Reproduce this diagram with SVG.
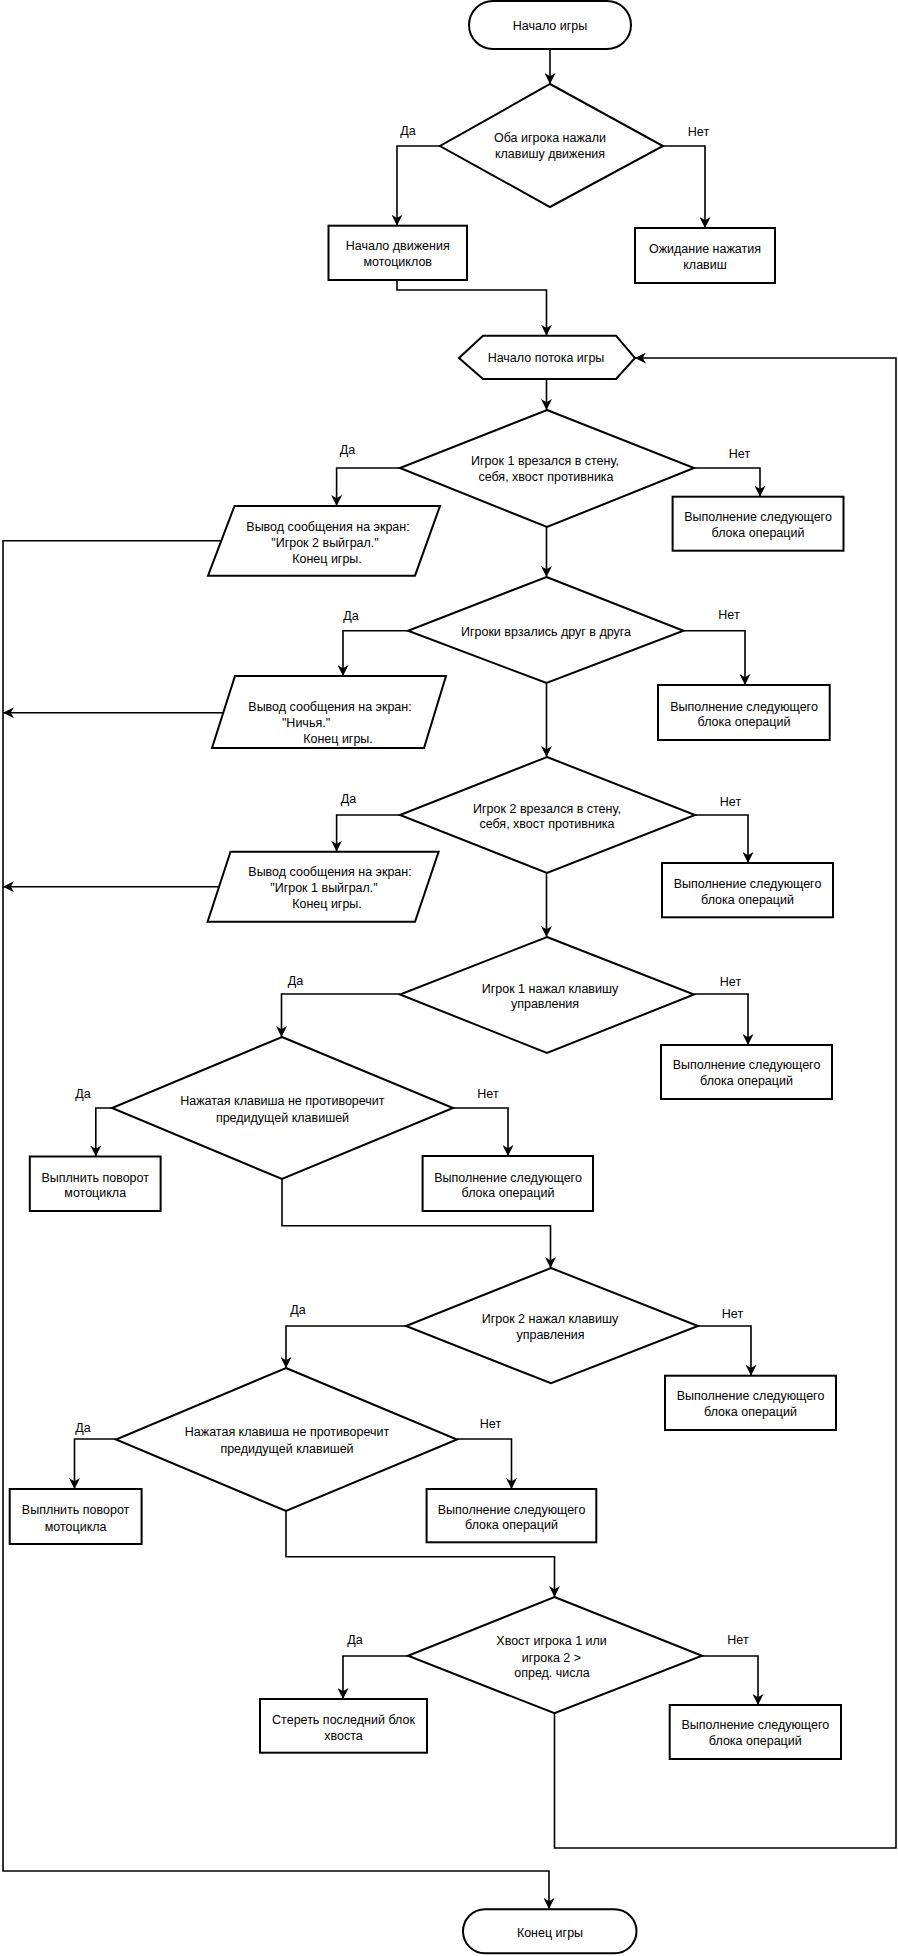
<svg xmlns="http://www.w3.org/2000/svg" width="898" height="1956" viewBox="0 0 898 1956">
<defs>
<marker id="arr" viewBox="0 0 10 10" refX="10" refY="5" markerWidth="11" markerHeight="11" markerUnits="userSpaceOnUse" orient="auto">
<path d="M0,0 L10,5 L0,10 L3,5 Z" fill="#000"/>
</marker>
<style>
.s{fill:#fff;stroke:#000;stroke-width:2}
.c{fill:none;stroke:#000;stroke-width:1.6}
.a{marker-end:url(#arr)}
text{font-family:"Liberation Sans",Arial,sans-serif;font-size:12.5px;fill:#000;text-anchor:middle;dominant-baseline:central}
</style>
</defs>
<rect width="898" height="1956" fill="#fff"/>
<g id="connectors">
<path class="c a" d="M550,49 V84"/>
<path class="c a" d="M440,146 H397 V225.7"/>
<path class="c a" d="M663,146 H705 V228"/>
<path class="c a" d="M397,280 V290 H546.5 V335.7"/>
<path class="c a" d="M546.5,379 V410"/>
<path class="c a" d="M400,468 H336.6 V506"/>
<path class="c a" d="M220.8,540.7 H3 V1871 H549 V1909"/>
<path class="c a" d="M694,468 H760 V496.7"/>
<path class="c a" d="M546.5,527 V577"/>
<path class="c a" d="M408,630.7 H343 V676"/>
<path class="c a" d="M223.6,712.7 H3"/>
<path class="c a" d="M683.5,630.7 H745 V685"/>
<path class="c a" d="M546.5,683 V757"/>
<path class="c a" d="M400,815 H336.6 V851.7"/>
<path class="c a" d="M219.6,886.7 H3"/>
<path class="c a" d="M695,815 H748 V863"/>
<path class="c a" d="M546.5,873 V937"/>
<path class="c a" d="M400,994 H281.5 V1037"/>
<path class="c a" d="M694,994 H748 V1045"/>
<path class="c a" d="M112,1108 H95.8 V1156.5"/>
<path class="c a" d="M453,1108 H508 V1156"/>
<path class="c a" d="M282,1179 V1225.7 H550.5 V1268"/>
<path class="c a" d="M406,1326 H286 V1368"/>
<path class="c a" d="M698,1326 H751 V1375.7"/>
<path class="c a" d="M116,1439 H74.5 V1489"/>
<path class="c a" d="M457,1439 H511.5 V1489"/>
<path class="c a" d="M286,1511 V1556.7 H554.5 V1597"/>
<path class="c a" d="M408,1656 H343 V1699"/>
<path class="c a" d="M702,1656 H758 V1705"/>
<path class="c a" d="M554.5,1713 V1848 H896 V358 H635"/>
</g>
<g id="labels">
<text x="408" y="131">Да</text><text x="698.5" y="132">Нет</text>
<text x="347.5" y="450">Да</text><text x="739.5" y="454">Нет</text>
<text x="351" y="616">Да</text><text x="729" y="615">Нет</text>
<text x="348.5" y="799">Да</text><text x="730.5" y="801.7">Нет</text>
<text x="295.5" y="980.7">Да</text><text x="730.5" y="981.7">Нет</text>
<text x="83" y="1094">Да</text><text x="488" y="1094">Нет</text>
<text x="298" y="1310">Да</text><text x="732.5" y="1314">Нет</text>
<text x="83" y="1427.7">Да</text><text x="490.5" y="1424">Нет</text>
<text x="355" y="1640">Да</text><text x="738" y="1640">Нет</text>
</g>
<g id="start">
<rect class="s" x="469" y="1" width="162" height="48" rx="24"/>
<text x="550" y="26">Начало игры</text>
</g>
<g id="d1">
<polygon class="s" points="550,84 663,146 550,207 440,146"/>
<text x="550" y="138">Оба игрока нажали</text>
<text x="550" y="154">клавишу движения</text>
</g>
<g id="b1">
<rect class="s" x="328.5" y="225.7" width="138.5" height="54.3"/>
<text x="397.7" y="246">Начало движения</text>
<text x="397.7" y="262">мотоциклов</text>
</g>
<g id="b2">
<rect class="s" x="635" y="228" width="140" height="55"/>
<text x="705" y="249">Ожидание нажатия</text>
<text x="705" y="265">клавиш</text>
</g>
<g id="hex">
<polygon class="s" points="459,358 483,335.7 616,335.7 635,358 616,379 483,379"/>
<text x="546" y="358">Начало потока игры</text>
</g>
<g id="d2">
<polygon class="s" points="547,410 694,468 547,527 400,468"/>
<text x="545" y="461">Игрок 1 врезался в стену,</text>
<text x="546" y="477">себя, хвост противника</text>
</g>
<g id="p1">
<polygon class="s" points="234.5,506 440,506 415,575.7 208,575.7"/>
<text x="328" y="526.7">Вывод сообщения на экран:</text>
<text x="325" y="543.3">"Игрок 2 выйграл."</text>
<text x="327" y="559.3">Конец игры.</text>
</g>
<g id="b3">
<rect class="s" x="672.6" y="496.7" width="170.9" height="54"/>
<text x="758" y="516.7">Выполнение следующего</text>
<text x="758" y="532.7">блока операций</text>
</g>
<g id="d3">
<polygon class="s" points="546.5,577 683.5,630.7 546.5,683 408,630.7"/>
<text x="546" y="631.7">Игроки врзались друг в друга</text>
</g>
<g id="p2">
<polygon class="s" points="235,676 446,676 424,748 212,748"/>
<text x="330" y="706.7">Вывод сообщения на экран:</text>
<text x="306" y="722.7">"Ничья."</text>
<text x="338" y="739">Конец игры.</text>
</g>
<g id="b4">
<rect class="s" x="658" y="685" width="171.7" height="55"/>
<text x="744" y="706.7">Выполнение следующего</text>
<text x="744" y="722.3">блока операций</text>
</g>
<g id="d4">
<polygon class="s" points="547,757 695,815 547,873 400,815"/>
<text x="547" y="809">Игрок 2 врезался в стену,</text>
<text x="547" y="824.3">себя, хвост противника</text>
</g>
<g id="p3">
<polygon class="s" points="230.5,851.7 438.6,851.7 415,921.7 207.6,921.7"/>
<text x="330" y="871.7">Вывод сообщения на экран:</text>
<text x="324" y="888.3">"Игрок 1 выйграл."</text>
<text x="327" y="904">Конец игры.</text>
</g>
<g id="b5">
<rect class="s" x="662" y="863" width="171" height="54.3"/>
<text x="747.5" y="884.3">Выполнение следующего</text>
<text x="747.5" y="900">блока операций</text>
</g>
<g id="d5">
<polygon class="s" points="547,937 694,994.5 547,1053 400,994.5"/>
<text x="550" y="989.3">Игрок 1 нажал клавишу</text>
<text x="545" y="1004.3">управления</text>
</g>
<g id="b6">
<rect class="s" x="661" y="1045" width="171" height="54"/>
<text x="746.5" y="1065">Выполнение следующего</text>
<text x="746.5" y="1081">блока операций</text>
</g>
<g id="d6">
<polygon class="s" points="282,1037 453,1108 282,1179 112,1108"/>
<text x="282.4" y="1101">Нажатая клавиша не противоречит</text>
<text x="282.5" y="1117.7">предидущей клавишей</text>
</g>
<g id="b7">
<rect class="s" x="29.8" y="1156.5" width="130.8" height="54.5"/>
<text x="95.2" y="1177.7">Выплнить поворот</text>
<text x="95.2" y="1193.3">мотоцикла</text>
</g>
<g id="b8">
<rect class="s" x="422.6" y="1156" width="170.4" height="55"/>
<text x="508" y="1177.7">Выполнение следующего</text>
<text x="508" y="1193.3">блока операций</text>
</g>
<g id="d7">
<polygon class="s" points="551,1268 698,1326 551,1383.3 406,1326"/>
<text x="550" y="1319.3">Игрок 2 нажал клавишу</text>
<text x="550.5" y="1335">управления</text>
</g>
<g id="b9">
<rect class="s" x="665" y="1375.7" width="171" height="54.3"/>
<text x="750.5" y="1396">Выполнение следующего</text>
<text x="750.5" y="1411.7">блока операций</text>
</g>
<g id="d8">
<polygon class="s" points="286,1368 457,1439.5 286,1511 116,1439.5"/>
<text x="287" y="1432.3">Нажатая клавиша не противоречит</text>
<text x="287" y="1449">предидущей клавишей</text>
</g>
<g id="b10">
<rect class="s" x="9.7" y="1489" width="131.9" height="55"/>
<text x="75.6" y="1510">Выплнить поворот</text>
<text x="75.6" y="1526.7">мотоцикла</text>
</g>
<g id="b11">
<rect class="s" x="426.6" y="1489" width="169.7" height="53.3"/>
<text x="511.5" y="1510">Выполнение следующего</text>
<text x="511.5" y="1525">блока операций</text>
</g>
<g id="d9">
<polygon class="s" points="554.5,1597 702,1655.7 554.5,1713.3 408,1655.7"/>
<text x="551.6" y="1641">Хвост игрока 1 или</text>
<text x="551.4" y="1657.7">игрока 2 &gt;</text>
<text x="552" y="1673.3">опред. числа</text>
</g>
<g id="b12">
<rect class="s" x="260" y="1699" width="167" height="53.7"/>
<text x="343.5" y="1720">Стереть последний блок</text>
<text x="343.5" y="1736">хвоста</text>
</g>
<g id="b13">
<rect class="s" x="669.7" y="1705" width="171.3" height="54"/>
<text x="755.3" y="1725">Выполнение следующего</text>
<text x="755.3" y="1741">блока операций</text>
</g>
<g id="end">
<rect class="s" x="463" y="1909.3" width="173.5" height="44" rx="22"/>
<text x="550" y="1933.3">Конец игры</text>
</g>
</svg>
